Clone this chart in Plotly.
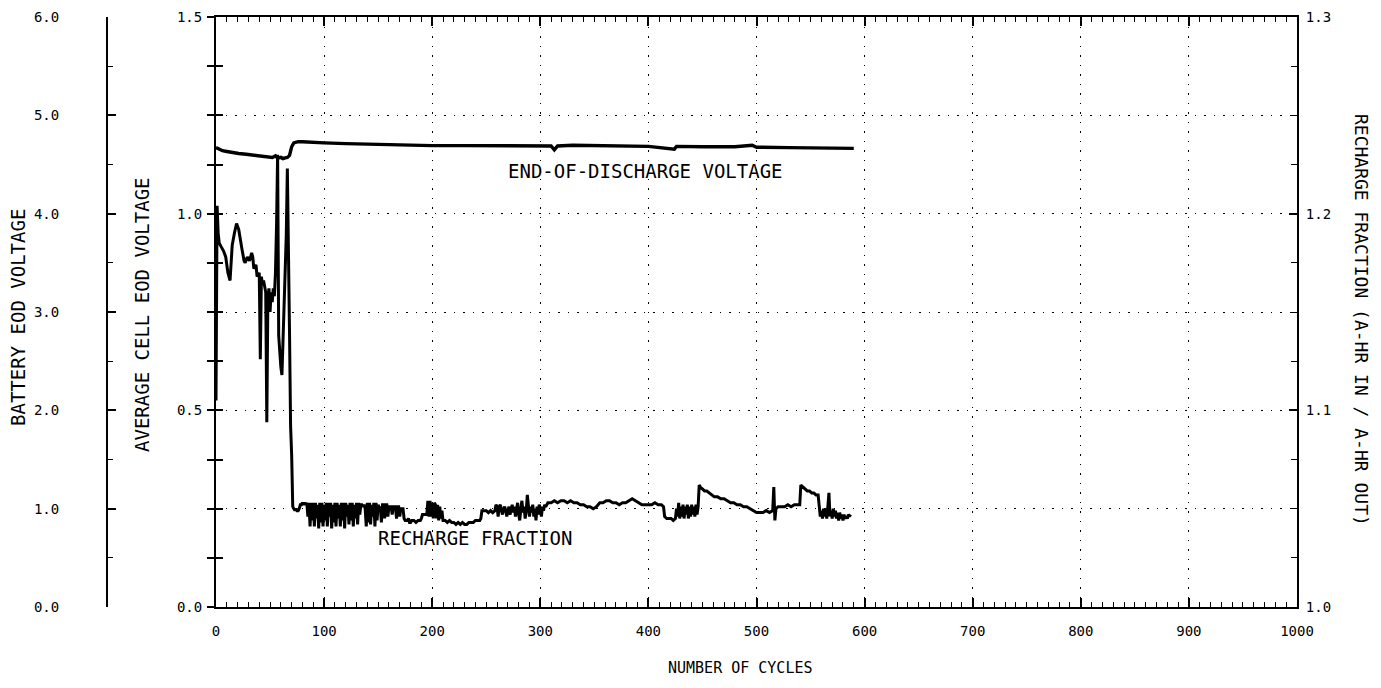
import plotly.graph_objects as go

# ---------------- data ----------------
eod_cycles = [0, 3, 6, 10, 15, 21, 28, 35, 42, 48, 52, 55, 57, 60, 62, 64, 66, 68, 69, 70,
              72, 76, 80, 90, 100, 120, 150, 180, 200, 230, 260, 290, 300, 310, 313, 316,
              330, 360, 400, 424, 426, 450, 480, 496, 500, 530, 560, 590]
eod_voltage = [1.168, 1.164, 1.160, 1.158, 1.155, 1.153, 1.151, 1.149, 1.147, 1.146, 1.143,
               1.147, 1.141, 1.143, 1.140, 1.142, 1.143, 1.148, 1.160, 1.170, 1.180, 1.183,
               1.183, 1.181, 1.180, 1.178, 1.176, 1.174, 1.173, 1.173, 1.172, 1.172, 1.171,
               1.172, 1.162, 1.172, 1.174, 1.172, 1.171, 1.164, 1.171, 1.170, 1.170, 1.174,
               1.169, 1.168, 1.167, 1.166]

rf_cycles_a = [0, 1, 2, 3, 5, 7, 9, 11, 13, 14, 15, 17, 19, 21, 22, 24, 26, 27, 29, 31, 33,
               34, 35, 37, 38, 40, 41, 42, 43, 44, 46, 47, 48, 49, 50, 51, 52, 53, 54, 55,
               56, 57, 58, 59, 60, 61, 62, 63, 64, 65, 66, 67, 68, 69, 70, 71]
rf_values_a = [1.105, 1.204, 1.190, 1.185, 1.183, 1.181, 1.178, 1.170, 1.166, 1.178, 1.184,
               1.190, 1.195, 1.192, 1.188, 1.182, 1.176, 1.175, 1.178, 1.176, 1.180, 1.178,
               1.172, 1.174, 1.168, 1.170, 1.126, 1.168, 1.164, 1.166, 1.160, 1.094, 1.158,
               1.162, 1.150, 1.160, 1.155, 1.162, 1.158, 1.170, 1.194, 1.230, 1.138, 1.128,
               1.122, 1.118, 1.135, 1.145, 1.170, 1.189, 1.223, 1.162, 1.140, 1.092, 1.077,
               1.051]

rf_cycles_b = list(range(72, 181))
rf_values_b = [1.050, 1.049, 1.050, 1.049, 1.049, 1.050, 1.052, 1.052, 1.053, 1.052, 1.053,
               1.052, 1.053, 1.046, 1.053, 1.041, 1.053, 1.044, 1.053, 1.041, 1.053, 1.045,
               1.052, 1.040, 1.053, 1.043, 1.053, 1.041, 1.052, 1.044, 1.053, 1.041, 1.053,
               1.046, 1.053, 1.040, 1.052, 1.043, 1.053, 1.041, 1.053, 1.045, 1.052, 1.041,
               1.053, 1.044, 1.053, 1.040, 1.053, 1.046, 1.052, 1.042, 1.053, 1.044, 1.053,
               1.041, 1.052, 1.045, 1.053, 1.042, 1.053, 1.047, 1.052, 1.052, 1.051, 1.052,
               1.050, 1.041, 1.053, 1.043, 1.053, 1.042, 1.052, 1.046, 1.053, 1.041, 1.053,
               1.044, 1.052, 1.050, 1.051, 1.043, 1.052, 1.052, 1.045, 1.052, 1.052, 1.046,
               1.051, 1.051, 1.051, 1.047, 1.051, 1.051, 1.051, 1.045, 1.051, 1.051, 1.046,
               1.050, 1.050, 1.050, 1.045, 1.044, 1.044, 1.044, 1.045, 1.043, 1.043]

rf_cycles_c = [181, 183, 185, 187, 189, 190, 191, 193, 195, 196, 197, 198, 199, 200, 201,
               202, 203, 204, 205, 206, 207, 208, 209, 210, 212, 214, 216, 218, 220, 222,
               224, 226, 228, 230, 232, 234, 236, 238, 240, 242, 244, 245, 246, 248, 250,
               252, 254, 256, 258, 259, 260, 261, 262, 263, 264, 265, 266, 267, 268, 269,
               270, 271, 272, 273, 274, 275, 276, 277, 278, 279, 280, 281, 282, 283, 284,
               285, 286, 287, 288, 289, 290, 291, 292, 293, 294, 295, 296, 297, 298, 299,
               300, 301, 302, 303, 304, 305, 306, 307, 308]
rf_values_c = [1.044, 1.044, 1.043, 1.044, 1.044, 1.045, 1.047, 1.047, 1.047, 1.054, 1.046,
               1.054, 1.046, 1.053, 1.045, 1.053, 1.052, 1.045, 1.052, 1.044, 1.051, 1.045,
               1.049, 1.044, 1.044, 1.043, 1.044, 1.043, 1.043, 1.042, 1.043, 1.042, 1.043,
               1.042, 1.042, 1.043, 1.043, 1.043, 1.044, 1.044, 1.044, 1.045, 1.049, 1.049,
               1.049, 1.048, 1.049, 1.048, 1.049, 1.052, 1.051, 1.046, 1.051, 1.052, 1.050,
               1.047, 1.050, 1.051, 1.049, 1.046, 1.049, 1.051, 1.047, 1.050, 1.052, 1.048,
               1.051, 1.046, 1.050, 1.053, 1.047, 1.044, 1.050, 1.054, 1.048, 1.051, 1.045,
               1.049, 1.057, 1.050, 1.046, 1.051, 1.048, 1.052, 1.046, 1.050, 1.044, 1.051,
               1.047, 1.052, 1.050, 1.046, 1.051, 1.049, 1.052, 1.051, 1.052, 1.053, 1.053]

rf_cycles_d = [310, 313, 316, 319, 322, 325, 328, 331, 334, 337, 340, 343, 346, 349, 352,
               355, 358, 361, 364, 367, 370, 373, 376, 379, 382, 385, 388, 391, 394, 397,
               400, 403, 406, 409, 412, 414, 415, 417, 419, 421, 423, 425, 426, 427, 428,
               429, 430, 431, 432, 433, 434, 435, 436, 437, 438, 439, 440, 441, 442, 443,
               444, 445, 446, 447, 448, 450, 452, 454, 456, 458, 461, 464, 467, 470, 473,
               476, 479, 482, 485, 488, 491, 494, 497, 500, 503, 506, 509, 512, 515, 516,
               517, 518, 520, 523, 526, 529, 532, 535, 538, 540, 541, 543, 545, 547, 549,
               551, 553, 555, 557, 558, 559, 560, 561, 562, 563, 564, 565, 566, 567, 568,
               569, 570, 571, 572, 573, 574, 575, 576, 577, 578, 579, 580, 581, 582, 583,
               584, 585, 586, 587]
rf_values_d = [1.053, 1.054, 1.053, 1.054, 1.054, 1.053, 1.054, 1.053, 1.053, 1.052, 1.052,
               1.051, 1.051, 1.050, 1.051, 1.053, 1.053, 1.054, 1.054, 1.053, 1.053, 1.052,
               1.053, 1.053, 1.054, 1.055, 1.054, 1.053, 1.052, 1.052, 1.052, 1.052, 1.053,
               1.052, 1.052, 1.051, 1.046, 1.045, 1.045, 1.045, 1.044, 1.045, 1.050, 1.046,
               1.053, 1.045, 1.051, 1.046, 1.052, 1.045, 1.051, 1.047, 1.052, 1.045, 1.051,
               1.046, 1.052, 1.047, 1.051, 1.046, 1.052, 1.047, 1.051, 1.062, 1.061, 1.060,
               1.059, 1.059, 1.058, 1.057, 1.056, 1.056, 1.055, 1.055, 1.054, 1.053, 1.053,
               1.052, 1.052, 1.051, 1.051, 1.050, 1.049, 1.048, 1.048, 1.048, 1.049, 1.048,
               1.049, 1.061, 1.044, 1.050, 1.051, 1.051, 1.051, 1.052, 1.051, 1.052, 1.052,
               1.052, 1.062, 1.061, 1.060, 1.059, 1.059, 1.058, 1.058, 1.057, 1.057, 1.051,
               1.046, 1.049, 1.045, 1.050, 1.046, 1.050, 1.045, 1.051, 1.058, 1.046, 1.049,
               1.045, 1.050, 1.046, 1.049, 1.045, 1.048, 1.044, 1.048, 1.045, 1.047, 1.044,
               1.047, 1.045, 1.046, 1.045, 1.047, 1.046, 1.047]

rf_cycles = rf_cycles_a + rf_cycles_b + rf_cycles_c + rf_cycles_d
rf_values = rf_values_a + rf_values_b + rf_values_c + rf_values_d

cells_in_battery = 4
battery_voltage = [v * cells_in_battery for v in eod_voltage]

x_tick_vals = [0, 100, 200, 300, 400, 500, 600, 700, 800, 900, 1000]
x_tick_text = ["0", "100", "200", "300", "400", "500", "600", "700", "800", "900", "1000"]
cell_tick_vals = [0.0, 0.5, 1.0, 1.5]
cell_tick_text = ["0.0", "0.5", "1.0", "1.5"]
batt_tick_vals = [0, 1, 2, 3, 4, 5, 6]
batt_tick_text = ["0.0", "1.0", "2.0", "3.0", "4.0", "5.0", "6.0"]
rf_tick_vals = [1.0, 1.1, 1.2, 1.3]
rf_tick_text = ["1.0", "1.1", "1.2", "1.3"]

# ---------------- figure ----------------
OFF = 8                      # page body margin
W, H = 1381 - 2 * OFF, 688 - 2 * OFF
FONT = "DejaVu Sans Mono"


def px(sx):                  # screen x -> paper fraction
    return (sx - OFF) / W


def py(sy):                  # screen y -> paper fraction
    return 1 - (sy - OFF) / H


x0, x1 = px(216), px(1297)
y0, y1 = py(607), py(17)

fig = go.Figure()
fig.add_trace(go.Scatter(x=eod_cycles, y=battery_voltage, yaxis="y3", mode="lines",
                         line=dict(width=0, color="rgba(0,0,0,0)"), hoverinfo="skip",
                         showlegend=False))
fig.add_trace(go.Scatter(x=eod_cycles, y=eod_voltage, yaxis="y4", mode="lines",
                         line=dict(width=0, color="rgba(0,0,0,0)"), hoverinfo="skip",
                         showlegend=False))
fig.add_trace(go.Scatter(x=rf_cycles, y=rf_values, yaxis="y2", mode="lines",
                         line=dict(color="black", width=3), showlegend=False,
                         name="RECHARGE FRACTION"))
fig.add_trace(go.Scatter(x=eod_cycles, y=eod_voltage, yaxis="y", mode="lines",
                         line=dict(color="black", width=3.4), showlegend=False,
                         name="END-OF-DISCHARGE VOLTAGE"))

tickfont = dict(family=FONT, size=14, color="black")

fig.update_layout(
    width=W, height=H,
    margin=dict(l=0, r=0, t=0, b=0, pad=0, autoexpand=False),
    paper_bgcolor="white", plot_bgcolor="white",
    showlegend=False,
    font=dict(family=FONT, color="black"),
    xaxis=dict(domain=[x0, x1], range=[0, 1000], tickvals=x_tick_vals, ticktext=x_tick_text,
               ticks="inside", ticklen=9, tickwidth=1.5, tickcolor="black",
               minor=dict(ticks="inside", dtick=10, ticklen=5, tickwidth=1.2,
                          tickcolor="black", showgrid=False),
               showline=True, linewidth=2, linecolor="black", mirror="ticks",
               showgrid=True, gridcolor="black", gridwidth=1, griddash="1.5px,8px",
               zeroline=False, tickfont=tickfont, ticklabelstandoff=10, fixedrange=True,
               automargin=False),
    yaxis=dict(domain=[y0, y1], range=[0, 1.5], tickvals=cell_tick_vals,
               ticktext=cell_tick_text, ticks="outside", ticklen=7, tickwidth=1.5,
               tickcolor="black",
               minor=dict(ticks="outside", dtick=0.125, ticklen=7, tickwidth=1.5,
                          tickcolor="black", showgrid=False),
               showline=True, linewidth=2, linecolor="black", showgrid=False,
               zeroline=False, tickfont=tickfont, ticklabelstandoff=2, automargin=False),
    yaxis4=dict(domain=[y0, y1], range=[0, 1.5], overlaying="y", anchor="x", side="left",
                tickvals=cell_tick_vals, ticktext=["", "", "", ""], ticks="inside",
                ticklen=7, tickwidth=1.5, tickcolor="black",
                minor=dict(ticks="inside", dtick=0.125, ticklen=7, tickwidth=1.5,
                           tickcolor="black", showgrid=False),
                showline=False, showgrid=False, zeroline=False, showticklabels=False,
                automargin=False),
    yaxis3=dict(range=[0, 6], overlaying="y", anchor="free", position=px(107), side="left",
                tickvals=batt_tick_vals, ticktext=batt_tick_text, ticks="inside",
                ticklen=8, tickwidth=1.5, tickcolor="black",
                minor=dict(ticks="inside", dtick=0.5, ticklen=5, tickwidth=1.2,
                           tickcolor="black", showgrid=False),
                showline=True, linewidth=2, linecolor="black",
                showgrid=True, gridcolor="black", gridwidth=1, griddash="1.5px,8px",
                zeroline=False, tickfont=tickfont, ticklabelstandoff=44, automargin=False),
    yaxis2=dict(range=[1.0, 1.3], overlaying="y", anchor="x", side="right",
                tickvals=rf_tick_vals, ticktext=rf_tick_text, ticks="inside",
                ticklen=8, tickwidth=1.5, tickcolor="black",
                minor=dict(ticks="inside", dtick=0.025, ticklen=6, tickwidth=1.2,
                           tickcolor="black", showgrid=False),
                showline=True, linewidth=2, linecolor="black", showgrid=False,
                zeroline=False, tickfont=tickfont, ticklabelstandoff=4, automargin=False),
)


def label(text, x, y, size, angle=0, xref="paper", yref="paper"):
    fig.add_annotation(text=text, x=x, y=y, xref=xref, yref=yref, showarrow=False,
                       xanchor="center", yanchor="middle", textangle=angle,
                       font=dict(family=FONT, size=size, color="black"))


label("END-OF-DISCHARGE VOLTAGE", 397, 1.109, 19, xref="x", yref="y")
label("RECHARGE FRACTION", 240, 0.176, 19, xref="x", yref="y")
label("NUMBER OF CYCLES", px(740), py(668), 15)
label("BATTERY EOD VOLTAGE", px(18), py(318), 19, angle=-90)
label("AVERAGE CELL EOD VOLTAGE", px(142), py(315), 19, angle=-90)
label("RECHARGE FRACTION (A-HR IN / A-HR OUT)", px(1362), py(320), 18, angle=90)

fig.write_html("out.html")
